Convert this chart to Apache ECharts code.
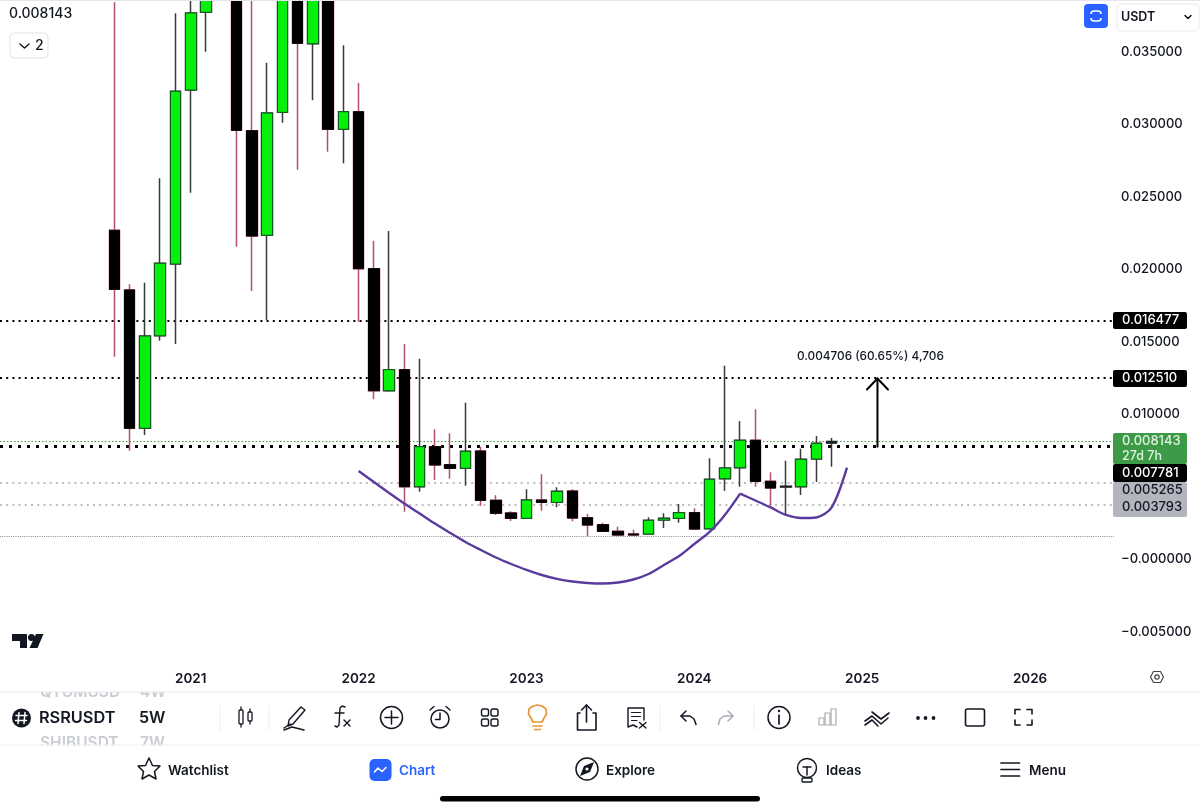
<!DOCTYPE html>
<html>
<head>
<meta charset="UTF-8"/>
<title>RSRUSDT 5W</title>
<script src="https://cdn.jsdelivr.net/npm/echarts@6/dist/echarts.min.js"></script>
<style>
html,body{margin:0;padding:0;background:#fff;}
#main{width:1200px;height:810px;}
</style>
</head>
<body>
<div id="main"></div>
<script>
// 5W candles. first ones run off the top of the chart
var opens  = [0.02270,0.01859,0.00905,0.01543,0.02038,0.03238,0.03774,0.03997,0.04272,0.02957,0.02236,0.03084,0.04066,0.03557,0.03928,0.02967,0.03088,0.02006,0.01164,0.01309,0.00502,0.00778,0.00654,0.00629,0.00748,0.00408,0.00321,0.00284,0.00410,0.00394,0.00472,0.00288,0.00240,0.00194,0.00176,0.00176,0.00272,0.00284,0.00323,0.00212,0.00557,0.00633,0.00822,0.00539,0.00500,0.00502,0.00693,0.00803];
var closes = [0.01863,0.00905,0.01541,0.02043,0.03229,0.03769,0.04203,0.04341,0.02960,0.02231,0.03079,0.04134,0.03560,0.03928,0.02967,0.03088,0.02006,0.01164,0.01309,0.00502,0.00778,0.00652,0.00629,0.00746,0.00408,0.00319,0.00284,0.00410,0.00394,0.00470,0.00286,0.00238,0.00194,0.00169,0.00169,0.00270,0.00284,0.00323,0.00210,0.00553,0.00631,0.00822,0.00539,0.00493,0.00505,0.00691,0.00801,0.008143];
var lows   = [0.01399,0.00750,0.00859,0.01509,0.01486,0.02530,0.03502,0.03893,0.02157,0.01852,0.01652,0.03012,0.02688,0.03167,0.02812,0.02732,0.01640,0.01105,0.01157,0.00330,0.00468,0.00548,0.00557,0.00509,0.00371,0.00307,0.00266,0.00281,0.00337,0.00360,0.00263,0.00160,0.00190,0.00167,0.00162,0.00174,0.00217,0.00254,0.00210,0.00210,0.00472,0.00502,0.00502,0.00371,0.00307,0.00445,0.00534,0.00640];
var highs  = [0.03843,0.01898,0.01909,0.02629,0.03767,0.03997,0.04341,0.04479,0.04410,0.03997,0.03426,0.04203,0.04203,0.04066,0.03997,0.03546,0.03286,0.02199,0.02266,0.01486,0.01385,0.00898,0.00870,0.01081,0.00778,0.00443,0.00332,0.00484,0.00588,0.00498,0.00484,0.00314,0.00254,0.00226,0.00206,0.00291,0.00319,0.00383,0.00353,0.00698,0.01337,0.00955,0.01036,0.00601,0.00681,0.00764,0.00852,0.00838];
var dojiBars = [44,47]; // almost no body, drawn as a dark dash

var yTicks = [-0.005,0,0.01,0.015,0.02,0.025,0.03,0.035];
var yearLabels = ['2021','2022','2023','2024','2025','2026'];
var yearBars = [5,16,27,38,49,60];

// horizontal levels
var blackLevels = [0.016477,0.012510];
var baseLevel = 0.007781;
var lastPrice = 0.008143;
var grayLevels = [0.005265,0.003793];
var lowLevel = 0.00162;

// hand drawn cup and handle, price at each bar
var cupFirstBar = 16;
var cupValues = [0.00610,0.00534,0.00459,0.00386,0.00317,0.00248,0.00183,0.00121,0.00066,0.00014,-0.00031,-0.00072,-0.00107,-0.00134,-0.00152,-0.00162,-0.00166,-0.00159,-0.00138,-0.00100,-0.00038,0.00024,0.00107,0.00190,0.00307,0.00454];
var handleFirstBar = 41;
var handleValues = [0.00454,0.00407,0.00359,0.00307,0.00286,0.00290,0.00359,0.00633];

var arrowBar = 50;
var moveValue = 0.004706, movePercent = '60.65%', moveTicks = '4,706';
var countdown = '27d 7h';

var LEAD = 7, TOTAL = 73; // empty bars left of the first candle, bars on the axis

var categories = [];
for (var i = 0; i < TOTAL; i++) categories.push('');
yearBars.forEach(function (b, i) { categories[b + LEAD] = yearLabels[i]; });

var wickData = [], bodyData = [];
opens.forEach(function (o, i) {
    var c = closes[i];
    var body = { value: [i + LEAD, o, c, Math.min(o, c), Math.max(o, c)] };
    if (dojiBars.indexOf(i) >= 0) {
        body.itemStyle = { color: '#222', color0: '#222', borderColor: '#222', borderColor0: '#222' };
    }
    wickData.push([i + LEAD, o, c, lows[i], highs[i]]);
    bodyData.push(body);
});
function drawnLine(firstBar, values) {
    return values.map(function (v, i) { return [firstBar + i + LEAD, v]; });
}

var FONT = 'Inter, "Noto Sans", sans-serif';
var INK = '#131722';

var myChart = echarts.init(document.getElementById('main'));

function levelLine(v, color, width, dash) {
    return { yAxis: v, lineStyle: { color: color, width: width, type: dash } };
}

var option = {
    animation: false,
    textStyle: { fontFamily: FONT },
    grid: { left: -2, top: 0, width: 1116, height: 660 },
    xAxis: {
        type: 'category',
        data: categories,
        axisLine: { show: false },
        axisTick: { show: false },
        splitLine: { show: false },
        axisLabel: { interval: 0, margin: 12, color: INK, fontFamily: FONT, fontWeight: 600, fontSize: 13.5 }
    },
    yAxis: {
        type: 'value',
        position: 'right',
        min: -0.006931,
        max: 0.038586,
        axisLine: { show: false },
        axisTick: { show: false },
        splitLine: { show: false },
        axisLabel: {
            margin: 7,
            padding: [4, 0, 0, 0],
            color: INK,
            fontFamily: FONT,
            fontWeight: 500,
            fontSize: 13,
            customValues: yTicks,
            formatter: function (v) {
                return v <= 0 ? '\u2212' + Math.abs(v).toFixed(6) : v.toFixed(6);
            }
        }
    },
    series: [
        {
            name: 'levels',
            type: 'line',
            data: [],
            z: 1,
            silent: true,
            markLine: {
                silent: true,
                z: 1,
                precision: 6,
                symbol: 'none',
                label: { show: false },
                emphasis: { disabled: true },
                data: [
                    levelLine(blackLevels[0], '#000', 2, [2, 4.2]),
                    levelLine(blackLevels[1], '#000', 2, [2, 4.2]),
                    levelLine(lastPrice, '#3d9a47', 1, [1.5, 2]),
                    levelLine(baseLevel, '#000', 3, [3, 6]),
                    levelLine(grayLevels[0], '#a8a8a8', 1.6, [2, 4.2]),
                    levelLine(grayLevels[1], '#a8a8a8', 1.6, [2, 4.2]),
                    levelLine(lowLevel, '#8a8a8a', 1, [1, 1.2])
                ]
            }
        },
        {
            name: 'RSRUSDT',
            type: 'candlestick',
            z: 3,
            silent: true,
            barWidth: 11,
            encode: { x: 0, y: [1, 2, 3, 4] },
            itemStyle: { color: '#3a3a3a', color0: '#b4506a', borderColor: '#3a3a3a', borderColor0: '#b4506a', borderWidth: 1.5 },
            data: wickData
        },
        {
            name: 'bodies',
            type: 'candlestick',
            z: 4,
            silent: true,
            barWidth: 11,
            encode: { x: 0, y: [1, 2, 3, 4] },
            itemStyle: { color: '#06f00c', color0: '#000', borderColor: '#0d5a1e', borderColor0: '#000', borderWidth: 1 },
            data: bodyData
        },
        {
            name: 'cup',
            type: 'line',
            z: 5,
            silent: true,
            smooth: 0.3,
            symbol: 'none',
            lineStyle: { color: '#5b3a9e', width: 2.4 },
            data: drawnLine(cupFirstBar, cupValues)
        },
        {
            name: 'handle',
            type: 'line',
            z: 5,
            silent: true,
            smooth: 0.3,
            symbol: 'none',
            lineStyle: { color: '#5b3a9e', width: 2.4 },
            data: drawnLine(handleFirstBar, handleValues)
        }
    ]
};
myChart.setOption(option);

// page furniture around the chart
function T(x, y, text, size, weight, color, z) {
    return { type: 'text', x: x, y: y, z: z || 60, silent: true,
        style: { text: text, fill: color || INK, font: (weight || 500) + ' ' + size + 'px ' + FONT, textAlign: 'left', textVerticalAlign: 'middle' } };
}
function L(points, color, width) {
    return { type: 'polyline', z: 60, silent: true, shape: { points: points },
        style: { stroke: color || INK, lineWidth: width || 1.6, fill: null, lineCap: 'round', lineJoin: 'round' } };
}
function C(cx, cy, r, color, width, fill) {
    return { type: 'circle', z: 60, silent: true, shape: { cx: cx, cy: cy, r: r },
        style: { stroke: fill ? null : (color || INK), lineWidth: width || 1.6, fill: fill || null } };
}
function R(x, y, w, h, r, stroke, width, fill, z) {
    return { type: 'rect', z: z || 60, silent: true, shape: { x: x, y: y, width: w, height: h, r: r },
        style: { stroke: stroke || null, lineWidth: width || 1, fill: fill || null } };
}
function P(points, fill) {
    return { type: 'polygon', z: 60, silent: true, shape: { points: points }, style: { fill: fill || INK } };
}
function tag(top, height, bg) {
    return R(1113, top, 74, height, 2, null, 0, bg, 58);
}

var tip = myChart.convertToPixel({ gridIndex: 0 }, [arrowBar + LEAD, baseLevel + moveValue]);
var foot = myChart.convertToPixel({ gridIndex: 0 }, [arrowBar + LEAD, baseLevel]);
var DIM = '#c9ccd2', ORANGE = '#e8953a', BLUE = '#2962ff', GRAY = '#a9acb3';

var g = [
    // neighbours in the symbol picker, cut off above and below by white
    T(40, 692, 'QTUMUSDT', 15.5, 600, DIM, 55),
    T(140, 692, '4W', 15.5, 600, DIM, 55),
    T(40, 743, 'SHIBUSDT', 15.5, 600, DIM, 55),
    T(140, 743, '7W', 15.5, 600, DIM, 55),
    R(0, 684, 230, 8, 0, null, 0, '#fff', 56),
    R(119, 692, 20, 8, 0, null, 0, '#fff', 56),
    R(119, 735, 20, 10, 0, null, 0, '#fff', 56),
    R(0, 745.5, 1200, 64.5, 0, null, 0, '#fff', 56),

    // chrome lines
    L([[0, 692], [1200, 692]], '#e4e6ea', 1),
    L([[0, 745], [1200, 745]], '#eef0f2', 1),
    L([[0, 0.5], [1200, 0.5]], '#e4e6ee', 1),

    // top left
    T(9, 14, lastPrice.toFixed(6), 14, 500),
    R(10, 33, 38, 25, 4, '#e0e3eb', 1, '#fff'),
    L([[20, 44], [24.5, 48], [29, 44]], INK, 1.5),
    T(35, 46, '2', 14, 500),

    // top right
    R(1084, 4, 24, 24, 4, null, 0, BLUE),
    R(1091, 11, 10, 10, 3, '#fff', 1.5),
    R(1089, 14, 14, 4, 0, null, 0, BLUE),
    R(1117, 4, 82, 27, 4, '#e8eaef', 1, '#fff'),
    T(1121, 17, 'USDT', 12.5, 600),
    L([[1185, 15.5], [1188, 18.5], [1191, 15.5]], INK, 1.5),

    // price tags
    tag(312, 17, '#000'), T(1122, 320.5, blackLevels[0].toFixed(6), 13, 500, '#fff'),
    tag(370, 17, '#000'), T(1122, 378.5, blackLevels[1].toFixed(6), 13, 500, '#fff'),
    tag(433, 31, '#3d9a47'), T(1122, 441.5, lastPrice.toFixed(6), 13, 500, '#dff3e1'), T(1122, 456, countdown, 12.5, 500, '#dff3e1'),
    tag(464, 18, '#000'), T(1122, 473, baseLevel.toFixed(6), 13, 500, '#fff'),
    tag(482, 35, '#b2b5be'), T(1122, 490.5, grayLevels[0].toFixed(6), 13, 500), T(1122, 507.5, grayLevels[1].toFixed(6), 13, 500),

    // arrow and its measure
    L([[foot[0], foot[1]], [tip[0], tip[1]]], '#000', 2),
    L([[tip[0] - 10.5, tip[1] + 11], [tip[0], tip[1]], [tip[0] + 10.5, tip[1] + 11]], '#000', 2),
    T(797, 356, moveValue.toFixed(6) + ' (' + movePercent + ') ' + moveTicks, 11.8, 500),

    // logo
    P([[12, 634], [27, 634], [27, 648], [20, 648], [20, 641], [12, 641]], '#131722'),
    C(31.5, 637.5, 3.5, null, 0, '#131722'),
    P([[36, 634], [43.5, 634], [37.5, 648], [29.5, 648]], '#131722'),

    // settings hexagon next to the time axis
    L([[1150.5, 677], [1153.5, 671.5], [1160.5, 671.5], [1163.5, 677], [1160.5, 682.5], [1153.5, 682.5], [1150.5, 677]], '#444', 1.2),
    C(1157, 677, 2.2, '#444', 1.2),

    // symbol row
    C(21.5, 718, 9.5, null, 0, '#131722'),
    L([[19, 712.5], [18, 723.5]], '#fff', 1.5), L([[25, 712.5], [24, 723.5]], '#fff', 1.5),
    L([[16, 715.5], [27, 715.5]], '#fff', 1.5), L([[15.5, 720.5], [26.5, 720.5]], '#fff', 1.5),
    T(39, 718, 'RSRUSDT', 16.3, 600),
    T(139, 718, '5W', 16, 600),

    // toolbar separators
    L([[220, 706], [220, 730]], '#eceef1', 1), L([[269, 706], [269, 730]], '#eceef1', 1),
    L([[660, 706], [660, 730]], '#eceef1', 1), L([[754, 706], [754, 730]], '#eceef1', 1),

    // candles
    L([[241, 707], [241, 727]], INK, 1.3), R(239, 710, 4, 14, 1, INK, 1.3, '#fff'),
    L([[250, 709], [250, 724]], INK, 1.3), R(248, 712, 4, 9, 1, INK, 1.3, '#fff'),
    // brush
    L([[289, 720], [301, 707], [305, 710], [293, 724], [288, 726], [289, 720]], INK, 1.4),
    L([[284, 728], [290, 724]], INK, 1.4), L([[284, 730], [292, 727], [304, 730]], INK, 1.4),
    // fx
    L([[345, 707], [342, 706], [340, 708], [339, 725], [337, 727], [335, 726]], INK, 1.4),
    L([[335, 713], [344, 713]], INK, 1.4),
    L([[344, 720], [350, 726]], INK, 1.4), L([[350, 720], [344, 726]], INK, 1.4),
    // plus
    C(391.5, 717.5, 11, INK, 1.5), L([[391.5, 711], [391.5, 724]], INK, 1.5), L([[385, 717.5], [398, 717.5]], INK, 1.5),
    // alarm
    C(440, 719, 9, INK, 1.5), L([[440, 713], [440, 719.5], [435.5, 719.5]], INK, 1.5),
    L([[430, 710], [434, 706.5]], INK, 1.5), L([[450, 710], [446, 706.5]], INK, 1.5),
    // layout
    R(481.5, 709, 7, 7, 2, INK, 1.4), R(491, 709, 7, 7, 2, INK, 1.4), R(481.5, 719, 7, 7, 2, INK, 1.4), R(491, 719, 7, 7, 2, INK, 1.4),
    // bulb
    L([[533, 722], [531, 718], [528.5, 714], [529, 709], [533, 706], [537.5, 705], [542, 706], [546, 709], [546.5, 714], [544, 718], [542, 722], [533, 722]], ORANGE, 1.7),
    L([[533, 726], [542, 726]], ORANGE, 1.7), L([[534.5, 729.5], [540.5, 729.5]], ORANGE, 1.7),
    // share
    L([[580, 713], [577.5, 713], [577.5, 730], [596, 730], [596, 713], [593, 713]], INK, 1.6),
    L([[586.5, 722], [586.5, 705]], INK, 1.6), L([[581.5, 710], [586.5, 705], [591.5, 710]], INK, 1.6),
    // notes
    L([[644, 720], [644, 708], [628, 708], [628, 727], [633, 725], [637, 727]], INK, 1.4),
    L([[631.5, 712.5], [640.5, 712.5]], INK, 1.2), L([[631.5, 716.5], [640.5, 716.5]], INK, 1.2), L([[631.5, 720.5], [637, 720.5]], INK, 1.2),
    L([[639.5, 722.5], [646, 728]], INK, 1.4), L([[646, 722.5], [639.5, 728]], INK, 1.4),
    // undo, redo
    L([[686, 711], [681, 716], [686, 721]], INK, 1.5), L([[681, 716], [690, 716], [694, 719], [696, 724.5]], INK, 1.5),
    L([[728, 711], [733, 716], [728, 721]], GRAY, 1.5), L([[733, 716], [724, 716], [720, 719], [718.5, 724.5]], GRAY, 1.5),
    // info
    C(779, 717.5, 11, INK, 1.5), L([[779, 715], [779, 724]], INK, 1.7), C(779, 711, 1.2, null, 0, INK),
    // volume bars
    R(819, 718, 5, 7, 0, GRAY, 1.2), R(825, 713, 5, 12, 0, GRAY, 1.2), R(831, 709, 5, 16, 0, GRAY, 1.2),
    // chevrons
    L([[865, 721], [872, 716], [881, 724], [888, 718]], INK, 1.6), L([[865, 725], [872, 720], [878, 726]], INK, 1.6),
    L([[872, 712], [881, 719], [889, 713]], INK, 1.6),
    // more
    C(918, 718, 1.9, null, 0, INK), C(925.5, 718, 1.9, null, 0, INK), C(933.5, 718, 1.9, null, 0, INK),
    // square, fullscreen
    R(965.5, 709, 19, 17, 2, INK, 1.6),
    L([[1015, 714], [1015, 709.5], [1020, 709.5]], INK, 1.6), L([[1027, 709.5], [1032, 709.5], [1032, 714]], INK, 1.6),
    L([[1015, 720], [1015, 725], [1020, 725]], INK, 1.6), L([[1027, 725], [1032, 725], [1032, 720]], INK, 1.6),

    // bottom navigation
    L([[149, 758], [152.5, 765.5], [160, 766], [154.5, 771.5], [156, 779], [149, 775], [142, 779], [143.5, 771.5], [138, 766], [145.5, 765.5], [149, 758]], INK, 1.5),
    T(168, 771, 'Watchlist', 13.5, 600),
    R(369.5, 759, 22, 22, 5, null, 0, BLUE),
    L([[374.5, 772], [378, 768], [382, 771.5], [386, 767.5]], '#fff', 1.6),
    T(399, 771, 'Chart', 13.5, 600, BLUE),
    C(587, 769, 11, INK, 1.5),
    P([[594, 762], [590, 772], [580, 776], [584, 766]], INK),
    C(587, 769, 1.6, null, 0, '#fff'),
    T(606, 771, 'Explore', 13.5, 600),
    C(807, 768, 9.5, INK, 1.5), L([[803, 767], [811, 767]], INK, 1.5), L([[807, 767], [807, 775]], INK, 1.5),
    R(802, 778, 10, 4, 1, INK, 1.4),
    T(826, 771, 'Ideas', 13.5, 600),
    L([[1001, 763], [1019.5, 763]], INK, 1.7), L([[1001, 769.5], [1019.5, 769.5]], INK, 1.7), L([[1001, 776], [1019.5, 776]], INK, 1.7),
    T(1029, 771, 'Menu', 13.5, 600),
    R(440, 796, 320, 5.5, 2.7, null, 0, '#000')
];
myChart.setOption({ graphic: { elements: g } });
</script>
</body>
</html>
